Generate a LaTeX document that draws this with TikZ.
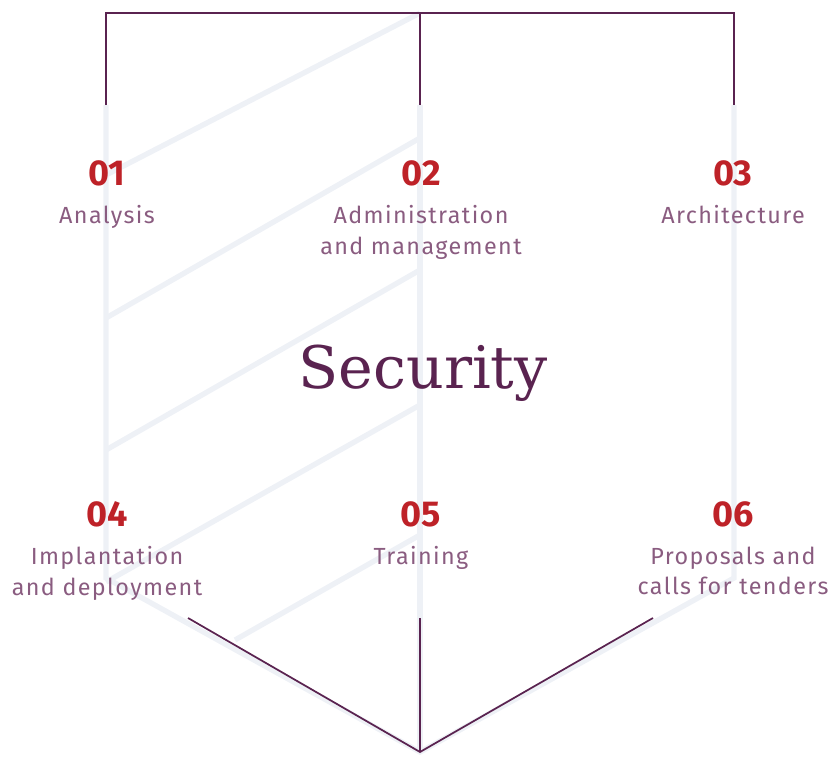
\documentclass[tikz,border=0pt]{standalone}
\usepackage{fontspec}
\setmainfont{Fira Sans}
\newfontfamily\titlefont{DejaVu Serif}
\newfontfamily\labelfont[LetterSpace=6]{Fira Sans}
\definecolor{plum}{HTML}{5A2350}
\definecolor{mauve}{HTML}{8A5C80}
\definecolor{brick}{HTML}{BE2228}
\definecolor{haze}{HTML}{EEF1F6}
\begin{document}
\begin{tikzpicture}[x=0.75pt,y=-0.75pt,
        frame/.style={draw=plum, line width=1.3pt},
        shade/.style={draw=haze, line width=4pt},
        num/.style={text=brick, font=\fontsize{27}{28}\selectfont\bfseries},
        label/.style={text=mauve, font=\labelfont\fontsize{17.5}{23}\selectfont, align=center}
    ]
        \useasboundingbox (0,0) rectangle (840,760);
        % Light shield
        \draw[shade] (106,105) -- (106,578) -- (420,752) -- (734,578) -- (734,105);
        \draw[shade] (420,105) -- (420,752);
        \foreach \ya/\yb in {175/13, 318/138, 450/270, 582/405}
            \draw[shade] (106,\ya) -- (420,\yb);
        \draw[shade] (235,640) -- (420,535);
        % Dark frame
        \coordinate (tl) at (106,105);
        \coordinate (tm) at (420,105);
        \coordinate (tr) at (734,105);
        \coordinate (tip) at (420,752);
        \draw[frame] (tl) -- (106,13) -- (734,13) -- (tr);
        \draw[frame] (420,13) -- (tm);
        \draw[frame] (188,618) -- (tip) -- (653,618);
        \draw[frame] (420,618) -- (tip);
        % Title
        \node[text=plum, font=\titlefont\fontsize{44}{48}\selectfont] (title) at (423,373) {Security};
        % Numbers
        \node[num] (n1) at (107,173) {01};
        \node[num] (n2) at (421,173) {02};
        \node[num] (n3) at (733,173) {03};
        \node[num] (n4) at (107,514) {04};
        \node[num] (n5) at (421,514) {05};
        \node[num] (n6) at (733,514) {06};
        % Labels
        \node[label, anchor=north] (l1) at (107,201) {Analysis};
        \node[label, anchor=north] (l2) at (421,201) {Administration\\and management};
        \node[label, anchor=north] (l3) at (733,201) {Architecture};
        \node[label, anchor=north] (l4) at (107,542) {Implantation\\and deployment};
        \node[label, anchor=north] (l5) at (421,542) {Training};
        \node[label, anchor=north] (l6) at (733,542) {Proposals and\\calls for tenders};
    \end{tikzpicture}
\end{document}
